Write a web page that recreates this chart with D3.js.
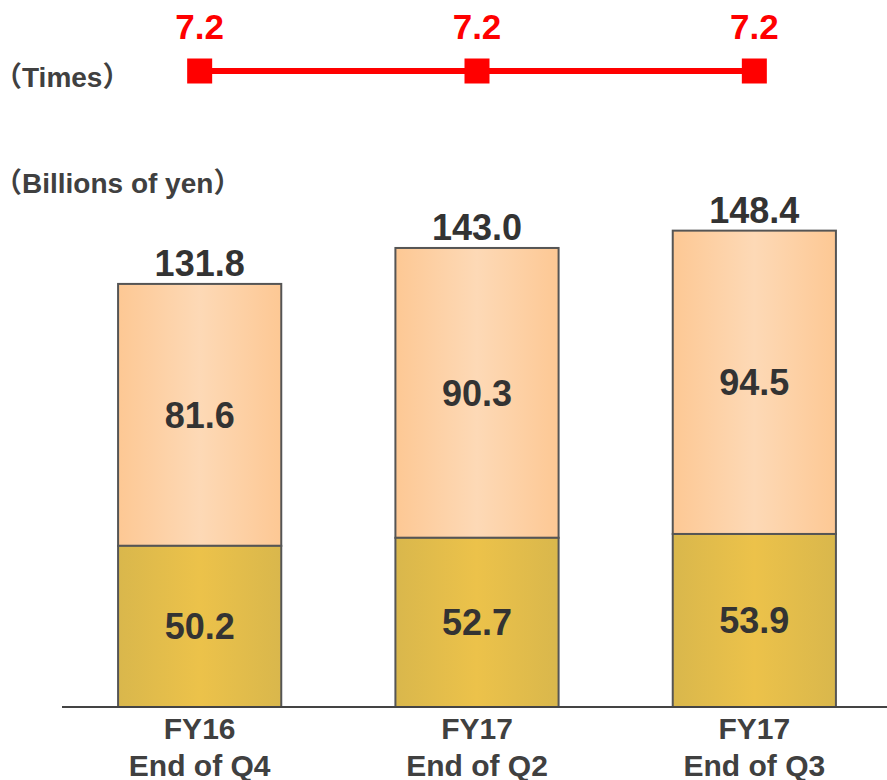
<!DOCTYPE html>
<html>
<head>
<meta charset="utf-8">
<script src="https://cdn.jsdelivr.net/npm/d3@7"></script>
<style>
  body { margin: 0; background: #fff; }
  text { font-family: "Liberation Sans", Arial, sans-serif; font-weight: bold; }
  .paren { font-family: "Noto Sans CJK JP", sans-serif; font-weight: bold; }
</style>
</head>
<body>
<div id="chart"></div>
<script>
// data
const categories = ["FY16|End of Q4", "FY17|End of Q2", "FY17|End of Q3"];
const lowerValues = [50.2, 52.7, 53.9];
const upperValues = [81.6, 90.3, 94.5];
const totals = [131.8, 143.0, 148.4];
const timesValues = [7.2, 7.2, 7.2];

const width = 887, height = 780;

const svg = d3.select("#chart").append("svg")
    .attr("width", width)
    .attr("height", height);

// gradients for the two segments
const defs = svg.append("defs");
function hGrad(id, edge, mid) {
    let g = defs.append("linearGradient").attr("id", id)
        .attr("x1", "0%").attr("x2", "100%").attr("y1", "0%").attr("y2", "0%");
    g.append("stop").attr("offset", "0%").attr("stop-color", edge);
    g.append("stop").attr("offset", "50%").attr("stop-color", mid);
    g.append("stop").attr("offset", "100%").attr("stop-color", edge);
}
hGrad("gUpper", "#fdc894", "#fdd9b6");
hGrad("gLower", "#d9b74c", "#ecc24a");

// scales
const x = d3.scaleBand()
    .domain(categories)
    .range([61, 893])
    .paddingInner(0.4116)
    .paddingOuter(0.2058);

const baseY = 707;
const y = d3.scaleLinear()
    .domain([0, 150])
    .range([baseY, baseY - 150 * 3.21]);

const cx = d => x(d) + x.bandwidth() / 2;
const stroke = "#555";

// bars
let bars = svg.append("g").selectAll("g.bar")
    .data(categories)
    .join("g")
    .attr("class", "bar");

bars.append("rect")
    .attr("x", d => x(d))
    .attr("width", x.bandwidth())
    .attr("y", (d, i) => y(lowerValues[i] + upperValues[i]))
    .attr("height", (d, i) => y(lowerValues[i]) - y(lowerValues[i] + upperValues[i]))
    .attr("fill", "url(#gUpper)")
    .attr("stroke", stroke)
    .attr("stroke-width", 2);

bars.append("rect")
    .attr("x", d => x(d))
    .attr("width", x.bandwidth())
    .attr("y", (d, i) => y(lowerValues[i]))
    .attr("height", (d, i) => y(0) - y(lowerValues[i]))
    .attr("fill", "url(#gLower)")
    .attr("stroke", stroke)
    .attr("stroke-width", 2);

// segment labels
bars.append("text")
    .attr("x", cx)
    .attr("y", (d, i) => y(lowerValues[i] / 2))
    .attr("dy", "0.36em")
    .attr("text-anchor", "middle")
    .attr("font-size", 36)
    .attr("fill", "#333")
    .text((d, i) => lowerValues[i].toFixed(1));

bars.append("text")
    .attr("x", cx)
    .attr("y", (d, i) => y(lowerValues[i] + upperValues[i] / 2))
    .attr("dy", "0.36em")
    .attr("text-anchor", "middle")
    .attr("font-size", 36)
    .attr("fill", "#333")
    .text((d, i) => upperValues[i].toFixed(1));

// totals
bars.append("text")
    .attr("x", cx)
    .attr("y", (d, i) => y(totals[i]) - 8)
    .attr("text-anchor", "middle")
    .attr("font-size", 36)
    .attr("fill", "#333")
    .text((d, i) => totals[i].toFixed(1));

// baseline
svg.append("line")
    .attr("x1", 62).attr("x2", width)
    .attr("y1", baseY).attr("y2", baseY)
    .attr("stroke", "#444")
    .attr("stroke-width", 2);

// category labels
let cat = svg.append("g").selectAll("text")
    .data(categories)
    .join("text")
    .attr("x", cx)
    .attr("y", 739)
    .attr("text-anchor", "middle")
    .attr("font-size", 30)
    .attr("fill", "#404040");
cat.append("tspan")
    .attr("x", cx)
    .text(d => d.split("|")[0]);
cat.append("tspan")
    .attr("x", cx)
    .attr("dy", 37)
    .text(d => d.split("|")[1]);

// times line
const lineY = 71;
svg.append("path")
    .datum(timesValues)
    .attr("d", d3.line().x((d, i) => cx(categories[i])).y(lineY))
    .attr("fill", "none")
    .attr("stroke", "#ff0000")
    .attr("stroke-width", 6);

svg.append("g").selectAll("rect")
    .data(timesValues)
    .join("rect")
    .attr("x", (d, i) => cx(categories[i]) - 12.5)
    .attr("y", lineY - 12.5)
    .attr("width", 25)
    .attr("height", 25)
    .attr("fill", "#ff0000");

svg.append("g").selectAll("text")
    .data(timesValues)
    .join("text")
    .attr("x", (d, i) => cx(categories[i]))
    .attr("y", 39)
    .attr("text-anchor", "middle")
    .attr("font-size", 35)
    .attr("fill", "#ff0000")
    .text(d => d.toFixed(1));

// unit labels
function unitLabel(str, yPos) {
    let t = svg.append("text")
        .attr("x", -6).attr("y", yPos)
        .attr("font-size", 28)
        .attr("fill", "#404040");
    t.append("tspan").attr("class", "paren").text("（");
    t.append("tspan").text(str);
    t.append("tspan").attr("class", "paren").text("）");
}
unitLabel("Times", 87);
unitLabel("Billions of yen", 193);
</script>
</body>
</html>
